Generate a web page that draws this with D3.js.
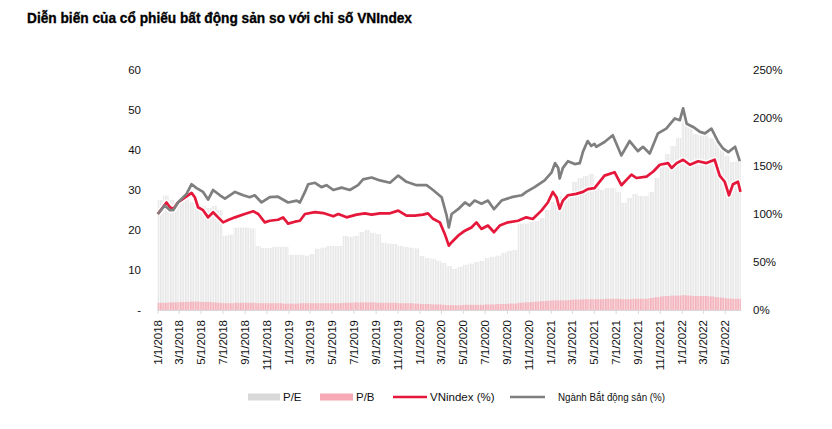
<!DOCTYPE html>
<html><head><meta charset="utf-8">
<script src="https://cdn.jsdelivr.net/npm/d3@7"></script>
<style>
body{margin:0;background:#fff;}
svg{display:block;}
</style></head><body>
<svg id="chart" width="832" height="429"></svg>
<script>
const title = "Diễn biến của cổ phiếu bất động sản so với chỉ số VNIndex";
const legendLabels = ["P/E", "P/B", "VNindex (%)", "Ngành Bắt động sản (%)"];
const leftTicks = [0, 10, 20, 30, 40, 50, 60];
const leftTickLabels = ["-", "10", "20", "30", "40", "50", "60"];
const rightTicks = [0, 50, 100, 150, 200, 250];

// Valuation series, semi-monthly (1st and 16th of each month) starting 2018-01-01
const valuationStart = "2018-01-01";
const peValues = [
  27.5, 28.6, 27.5, 27, 27.6, 27.6, 27, 26, 26, 25.5, 26, 25, 18.6, 18.8, 20.6, 20.6, 20.6, 20.4, 16, 15.5, 15.5, 15.8, 15.8, 15.8,
  13.8, 13.8, 13.8, 13.6, 14, 15.3, 15.6, 16, 16, 16, 18.5, 18.3, 18.5, 19.5, 20, 19.3, 19, 16.8, 16.6, 16.5, 16, 15.8, 15.6, 15.4,
  13.5, 13, 12.8, 12.3, 11.8, 11, 10.3, 10.8, 11.3, 11.6, 12, 12.3, 13, 13.3, 13.6, 14.3, 14.8, 15, 21.6, 21.6, 22, 22.3, 23, 25,
  27, 28.5, 27.5, 29, 32, 33, 33.5, 34, 31, 30, 30.5, 30.5, 29.5, 26.8, 28, 29, 28.5, 28.5, 29.5, 33, 37, 39, 41, 43,
  48, 46, 44, 43.7, 44, 43, 42, 40, 38.5, 37, 37.5
];
const pbValues = [
  1.8, 1.8, 1.9, 1.9, 2.0, 2.0, 2.1, 2.1, 2.0, 2.0, 1.9, 1.8, 1.7, 1.7, 1.8, 1.8, 1.8, 1.8, 1.7, 1.7, 1.7, 1.7, 1.7, 1.6,
  1.6, 1.6, 1.7, 1.7, 1.7, 1.7, 1.7, 1.7, 1.7, 1.7, 1.8, 1.8, 1.9, 1.9, 1.9, 1.9, 1.8, 1.8, 1.8, 1.8, 1.7, 1.7, 1.7, 1.6,
  1.5, 1.5, 1.4, 1.4, 1.3, 1.2, 1.2, 1.2, 1.3, 1.3, 1.3, 1.3, 1.4, 1.4, 1.5, 1.5, 1.6, 1.6, 1.8, 1.9, 2.0, 2.1, 2.2, 2.3,
  2.4, 2.4, 2.4, 2.5, 2.6, 2.6, 2.7, 2.7, 2.7, 2.7, 2.8, 2.8, 2.8, 2.7, 2.7, 2.8, 2.8, 2.8, 3.0, 3.2, 3.4, 3.5, 3.6, 3.6,
  3.7, 3.6, 3.5, 3.5, 3.5, 3.4, 3.2, 3.1, 2.9, 2.8, 2.8
];
const valuationEnd = "2022-06-15";

// Index performance relative to 1/1/2018 (%)
const vnIndex = [
  ["2018-01-02",100],["2018-01-26",112],["2018-02-05",107],["2018-02-14",105],["2018-02-27",112],["2018-03-18",117],
  ["2018-04-06",122],["2018-04-15",117.5],["2018-04-24",107],["2018-05-08",104],["2018-05-22",96.5],["2018-06-05",101.8],
  ["2018-06-19",96.5],["2018-07-03",91.3],["2018-07-17",93.8],["2018-08-05",96.5],["2018-09-01",100],["2018-09-25",102.8],
  ["2018-10-09",100],["2018-10-27",91.3],["2018-11-10",93],["2018-12-03",94],["2018-12-17",96.5],["2018-12-31",90],
  ["2019-01-19",92],["2019-02-02",93],["2019-02-16",100],["2019-03-16",102],["2019-04-08",101],["2019-05-06",97.6],
  ["2019-05-20",100],["2019-06-12",96.5],["2019-07-10",99.4],["2019-08-02",100.7],["2019-08-21",99.4],["2019-09-13",100.7],
  ["2019-10-11",100.7],["2019-11-03",103.5],["2019-11-26",98.3],["2019-12-19",98.3],["2020-01-11",99.4],["2020-01-25",100.7],
  ["2020-02-08",95],["2020-02-27",91.3],["2020-03-12",79],["2020-03-23",67],["2020-03-31",70.6],["2020-04-18",77.4],
  ["2020-05-07",82.6],["2020-05-25",86],["2020-06-08",91.3],["2020-06-22",84.4],["2020-07-10",88],["2020-07-27",81],
  ["2020-08-12",88],["2020-09-04",91.3],["2020-10-02",93],["2020-10-25",96.5],["2020-11-12",94.8],["2020-12-06",103.5],
  ["2020-12-24",112],["2021-01-07",123],["2021-01-17",117.5],["2021-01-26",105.4],["2021-02-04",114],["2021-02-18",119.5],
  ["2021-03-13",121],["2021-04-01",123],["2021-04-14",126],["2021-05-03",127],["2021-05-31",140],["2021-06-28",143.5],
  ["2021-07-17",130],["2021-08-14",141],["2021-08-28",137.5],["2021-09-25",139],["2021-10-14",144.3],["2021-11-01",151.3],
  ["2021-11-24",153],["2021-12-04",148],["2021-12-18",153],["2022-01-05",156.5],["2022-01-24",151.3],["2022-02-16",155],
  ["2022-03-11",153],["2022-04-03",156.5],["2022-04-17",140],["2022-05-01",133.6],["2022-05-13",119.5],["2022-05-24",131],
  ["2022-06-07",133.6],["2022-06-14",123]
];
const bdsIndex = [
  ["2018-01-02",100],["2018-01-21",108.8],["2018-02-05",104],["2018-02-14",104],["2018-02-27",112],["2018-03-23",121],
  ["2018-04-06",131],["2018-04-20",127],["2018-05-08",123],["2018-05-22",115],["2018-06-05",125],["2018-06-24",119.5],
  ["2018-07-08",116],["2018-08-05",123],["2018-08-28",119.5],["2018-09-15",117.5],["2018-09-29",119.5],["2018-10-18",112],
  ["2018-11-10",117.5],["2018-12-03",118],["2018-12-31",112],["2019-01-24",114],["2019-02-02",112],["2019-02-16",123],
  ["2019-02-25",131],["2019-03-16",132.5],["2019-04-03",128],["2019-04-17",130],["2019-05-06",125],["2019-05-29",127.5],
  ["2019-06-21",125],["2019-07-14",130],["2019-07-28",136],["2019-08-21",138],["2019-09-13",135],["2019-10-11",132.5],
  ["2019-11-03",140],["2019-11-26",133.5],["2019-12-24",130],["2020-01-21",130],["2020-02-08",125],["2020-03-03",117.5],
  ["2020-03-17",98.3],["2020-03-23",86],["2020-03-31",100],["2020-04-18",105],["2020-05-07",112],["2020-05-20",108.8],
  ["2020-06-03",114],["2020-06-22",110.7],["2020-07-10",114],["2020-07-27",105],["2020-08-17",114],["2020-09-14",117.5],
  ["2020-10-12",119.5],["2020-10-25",123],["2020-11-17",128],["2020-12-15",135],["2021-01-03",143],["2021-01-13",153],
  ["2021-01-22",148],["2021-01-26",137],["2021-02-04",148],["2021-02-18",155],["2021-03-09",152],["2021-03-23",153],
  ["2021-04-01",165],["2021-04-14",176],["2021-04-24",171],["2021-05-03",173],["2021-05-08",170],["2021-05-31",175],
  ["2021-06-23",182],["2021-07-17",161],["2021-08-09",176],["2021-09-01",165.5],["2021-09-15",170],["2021-10-04",163],
  ["2021-10-27",184],["2021-11-19",189],["2021-12-13",199.5],["2021-12-27",197.7],["2022-01-05",210],["2022-01-15",194],
  ["2022-02-02",190.7],["2022-02-21",185.5],["2022-03-07",184],["2022-03-25",189],["2022-04-13",175],["2022-04-27",168],
  ["2022-05-11",164.5],["2022-05-30",170],["2022-06-12",155]
];

const parse = d3.utcParse("%Y-%m-%d");
const svg = d3.select("#chart");
const defs = svg.append("defs");

// stripe patterns for the dense column series
const pePat = defs.append("pattern").attr("id", "peStripe").attr("patternUnits", "userSpaceOnUse")
  .attr("width", 2.5).attr("height", 10);
pePat.append("rect").attr("width", 2.5).attr("height", 10).attr("fill", "#f8f8f8");
pePat.append("rect").attr("width", 1.5).attr("height", 10).attr("fill", "#e7e7e7");
const pbPat = defs.append("pattern").attr("id", "pbStripe").attr("patternUnits", "userSpaceOnUse")
  .attr("width", 2.5).attr("height", 10);
pbPat.append("rect").attr("width", 2.5).attr("height", 10).attr("fill", "#f9d7dc");
pbPat.append("rect").attr("width", 1.5).attr("height", 10).attr("fill", "#f3b2bc");

const x = d3.scaleUtc().domain([parse("2018-01-01"), parse("2022-07-01")]).range([157.5, 746.6]);
const yL = d3.scaleLinear().domain([0, 60]).range([310, 70]);
const yR = d3.scaleLinear().domain([0, 250]).range([310, 70]);

// semi-monthly dates for valuation columns
const start = parse(valuationStart);
const valDates = [];
d3.utcMonth.range(start, parse("2022-07-01")).forEach(m => {
  valDates.push(m);
  valDates.push(d3.utcDay.offset(m, 15));
});
const peData = peValues.map((v, i) => ({ d: valDates[i], next: i + 1 < peValues.length ? valDates[i + 1] : parse(valuationEnd), v }));
const pbData = pbValues.map((v, i) => ({ d: valDates[i], next: i + 1 < pbValues.length ? valDates[i + 1] : parse(valuationEnd), v }));

svg.append("g").selectAll("rect").data(peData).join("rect")
  .attr("x", d => x(d.d)).attr("width", d => x(d.next) - x(d.d))
  .attr("y", d => yL(d.v)).attr("height", d => yL(0) - yL(d.v))
  .attr("fill", "url(#peStripe)");
svg.append("g").selectAll("rect").data(pbData).join("rect")
  .attr("x", d => x(d.d)).attr("width", d => x(d.next) - x(d.d))
  .attr("y", d => yL(d.v)).attr("height", d => yL(0) - yL(d.v))
  .attr("fill", "url(#pbStripe)");

// x axis
const xTicks = d3.utcMonth.every(2).range(parse("2018-01-01"), parse("2022-05-02"));
const fmt = d3.utcFormat("%-m/%-d/%Y");
const xAxis = svg.append("g").attr("transform", "translate(0,310)")
  .call(d3.axisBottom(x).tickValues(xTicks).tickFormat(fmt).tickSize(4).tickSizeOuter(0));
xAxis.select(".domain").attr("stroke", "#d9d9d9").attr("d", `M${x(parse("2018-01-01"))},0.5H${x(parse("2022-06-16"))}`);
xAxis.selectAll(".tick line").attr("stroke", "#d9d9d9");
xAxis.selectAll(".tick text")
  .attr("transform", "rotate(-90)").attr("text-anchor", "end")
  .attr("x", -10).attr("y", 0).attr("dy", "0.35em")
  .attr("fill", "#111").attr("font-size", 11.5)
  .attr("font-family", "'Liberation Sans Narrow','Arial Narrow','Liberation Sans',Arial,sans-serif");

// left axis labels
svg.append("g").selectAll("text").data(leftTicks).join("text")
  .attr("x", 141).attr("y", d => yL(d)).attr("dy", "0.35em").attr("text-anchor", "end")
  .attr("font-size", 11.5).attr("fill", "#111").attr("font-family", "'Liberation Sans',Arial,sans-serif")
  .text((d, i) => leftTickLabels[i]);
// right axis labels
svg.append("g").selectAll("text").data(rightTicks).join("text")
  .attr("x", 753).attr("y", d => yR(d)).attr("dy", "0.35em").attr("text-anchor", "start")
  .attr("font-size", 11.5).attr("fill", "#111").attr("font-family", "'Liberation Sans',Arial,sans-serif")
  .text(d => d + "%");

// lines
const line = d3.line().x(d => x(parse(d[0]))).y(d => yR(d[1]));
[[vnIndex, "#e5173a"], [bdsIndex, "#7f7f7f"]].forEach(([data, color]) => {
  svg.append("path").datum(data).attr("d", line).attr("fill", "none")
    .attr("stroke", "#fff").attr("stroke-opacity", 0.7).attr("stroke-width", 6).attr("stroke-linejoin", "round");
});
[[vnIndex, "#e5173a"], [bdsIndex, "#7f7f7f"]].forEach(([data, color]) => {
  svg.append("path").datum(data).attr("d", line).attr("fill", "none")
    .attr("stroke", color).attr("stroke-width", 2.7).attr("stroke-linejoin", "round");
});

// title
svg.append("text").attr("x", 27).attr("y", 23).text(title)
  .attr("font-family", "'Liberation Sans Narrow','Arial Narrow','Liberation Sans',Arial,sans-serif")
  .attr("font-weight", "bold").attr("font-size", 15).attr("fill", "#000")
  .attr("stroke", "#000").attr("stroke-width", 0.35)
  .attr("textLength", 385).attr("lengthAdjust", "spacingAndGlyphs");

// legend
const lg = svg.append("g").attr("font-family", "'Liberation Sans',Arial,sans-serif").attr("fill", "#111");
lg.append("rect").attr("x", 248).attr("y", 393.5).attr("width", 32).attr("height", 7).attr("fill", "#d9d9d9");
lg.append("text").attr("x", 283).attr("y", 397).attr("dy", "0.35em").attr("font-size", 11.5).text(legendLabels[0]);
lg.append("rect").attr("x", 320).attr("y", 393.5).attr("width", 33).attr("height", 7).attr("fill", "#f7aab5");
lg.append("text").attr("x", 356).attr("y", 397).attr("dy", "0.35em").attr("font-size", 11.5).text(legendLabels[1]);
lg.append("line").attr("x1", 393).attr("x2", 427).attr("y1", 397).attr("y2", 397).attr("stroke", "#e5173a").attr("stroke-width", 2.5);
lg.append("text").attr("x", 430).attr("y", 397).attr("dy", "0.35em").attr("font-size", 11.5).text(legendLabels[2]);
lg.append("line").attr("x1", 510).attr("x2", 545).attr("y1", 397).attr("y2", 397).attr("stroke", "#7f7f7f").attr("stroke-width", 2.5);
lg.append("text").attr("x", 558).attr("y", 397).attr("dy", "0.35em").attr("font-size", 10).text(legendLabels[3])
  .attr("textLength", 107).attr("lengthAdjust", "spacingAndGlyphs");
</script>
</body></html>
